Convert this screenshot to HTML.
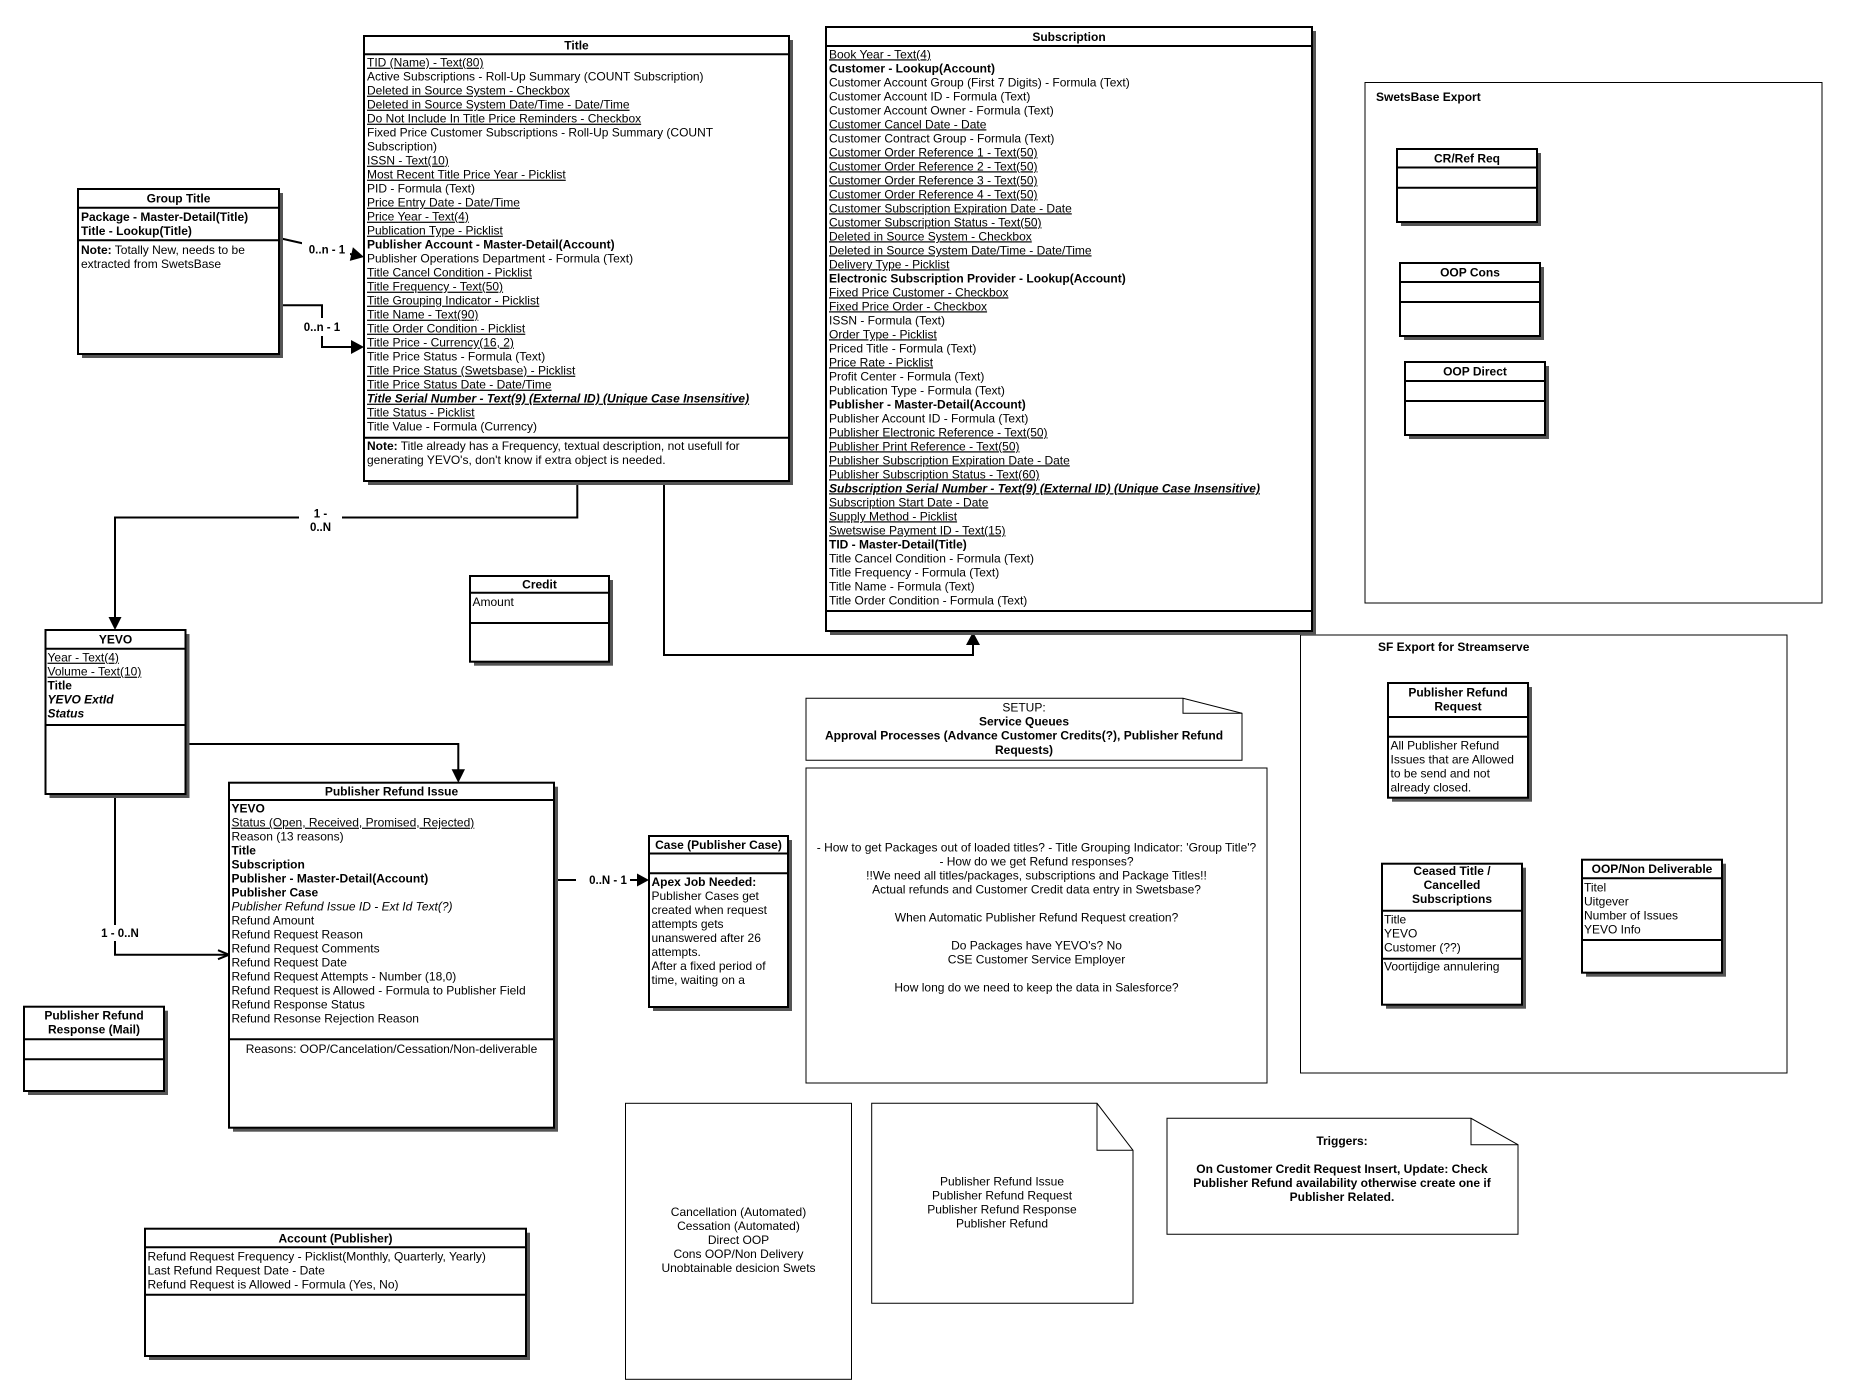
<!DOCTYPE html>
<html>
<head>
<meta charset="utf-8">
<style>
  html,body{margin:0;padding:0;background:#fff;}
  body{width:1875px;height:1399px;overflow:hidden;}
  svg{display:block;}
  text{font-family:"Liberation Sans",Arial,sans-serif;font-size:12px;fill:#000;}
  .b{font-weight:bold;}
  .i{font-style:italic;}
  .u{text-decoration:underline;}
  .m{text-anchor:middle;}
  .lbl{font-weight:bold;font-size:11.5px;}
</style>
</head>
<body>
<svg width="1875" height="1399" viewBox="0 0 1875 1399" xmlns="http://www.w3.org/2000/svg">
<rect x="0" y="0" width="1875" height="1399" fill="#fff"/>

<!-- Containers -->
<rect x="1365" y="82.5" width="457" height="520.5" fill="none" stroke="#000" stroke-width="1"/>
<text class="b" x="1376" y="101">SwetsBase Export</text>
<rect x="1300.5" y="635" width="486.5" height="438" fill="none" stroke="#000" stroke-width="1"/>
<text class="b" x="1378" y="651">SF Export for Streamserve</text>

<!-- Notes -->
<polygon points="806,698.3 1183,698.3 1242,713.3 1242,760.3 806,760.3" fill="#fff" stroke="#000" stroke-width="1"/>
<polyline points="1183,698.3 1183,713.3 1242,713.3" fill="none" stroke="#000" stroke-width="1"/>
<text class="m" x="1024" y="711.3">SETUP:</text>
<text class="m b" x="1024" y="725.7">Service Queues</text>
<text class="m b" x="1024" y="739.7">Approval Processes (Advance Customer Credits(?), Publisher Refund</text>
<text class="m b" x="1024" y="754">Requests)</text>

<rect x="806" y="768" width="461" height="315" fill="#fff" stroke="#000" stroke-width="1"/>
<text class="m" x="1036.5" y="851.7">- How to get Packages out of loaded titles? - Title Grouping Indicator: 'Group Title'?</text>
<text class="m" x="1036.5" y="865.7">- How do we get Refund responses?</text>
<text class="m" x="1036.5" y="879.7">!!We need all titles/packages, subscriptions and Package Titles!!</text>
<text class="m" x="1036.5" y="893.7">Actual refunds and Customer Credit data entry in Swetsbase?</text>
<text class="m" x="1036.5" y="921.7">When Automatic Publisher Refund Request creation?</text>
<text class="m" x="1036.5" y="949.7">Do Packages have YEVO's? No</text>
<text class="m" x="1036.5" y="963.7">CSE Customer Service Employer</text>
<text class="m" x="1036.5" y="991.7">How long do we need to keep the data in Salesforce?</text>

<rect x="625.5" y="1103.3" width="226" height="276" fill="#fff" stroke="#000" stroke-width="1"/>
<text class="m" x="738.5" y="1216">Cancellation (Automated)</text>
<text class="m" x="738.5" y="1230">Cessation (Automated)</text>
<text class="m" x="738.5" y="1244">Direct OOP</text>
<text class="m" x="738.5" y="1258">Cons OOP/Non Delivery</text>
<text class="m" x="738.5" y="1272">Unobtainable desicion Swets</text>

<polygon points="871.7,1103.3 1097,1103.3 1133,1150.3 1133,1303.3 871.7,1303.3" fill="#fff" stroke="#000" stroke-width="1"/>
<polyline points="1097,1103.3 1097,1150.3 1133,1150.3" fill="none" stroke="#000" stroke-width="1"/>
<text class="m" x="1002" y="1185.7">Publisher Refund Issue</text>
<text class="m" x="1002" y="1199.7">Publisher Refund Request</text>
<text class="m" x="1002" y="1213.7">Publisher Refund Response</text>
<text class="m" x="1002" y="1227.7">Publisher Refund</text>

<polygon points="1167,1118.3 1471,1118.3 1518,1144.7 1518,1234.3 1167,1234.3" fill="#fff" stroke="#000" stroke-width="1"/>
<polyline points="1471,1118.3 1471,1144.7 1518,1144.7" fill="none" stroke="#000" stroke-width="1"/>
<text class="m b" x="1342" y="1145">Triggers:</text>
<text class="m b" x="1342" y="1173">On Customer Credit Request Insert, Update: Check</text>
<text class="m b" x="1342" y="1187">Publisher Refund availability otherwise create one if</text>
<text class="m b" x="1342" y="1201">Publisher Related.</text>

<!-- Connectors -->
<g stroke="#000" stroke-width="2" fill="none">
  <line x1="279" y1="238" x2="352" y2="254.5"/>
  <polyline points="279,305.3 322,305.3 322,347 352,347"/>
  <polyline points="577.3,481 577.3,517.5 115,517.5 115,618"/>
  <polyline points="664,481 664,655 973,655 973,645"/>
  <polyline points="186,744 458.3,744 458.3,770"/>
  <polyline points="115,794 115,954.7 228,954.7"/>
  <line x1="558" y1="880" x2="638" y2="880"/>
  <polyline points="218,950.2 229,954.7 218,959.2"/>
</g>
<g fill="#000">
  <polygon points="364,257 349.8,260.9 352.9,247.3"/>
  <polygon points="364,347 351,340 351,354"/>
  <polygon points="115,630 108.5,617 121.5,617"/>
  <polygon points="973,632 966,645 980,645"/>
  <polygon points="458.3,782.7 451.6,769.3 465,769.3"/>
  <polygon points="649,880 637,873.5 637,886.5"/>
</g>
<!-- connector labels -->
<rect x="302" y="241" width="48" height="17" fill="#fff"/>
<text class="m lbl" x="327" y="253.5">0..n - 1</text>
<rect x="302" y="318" width="40" height="18" fill="#fff"/>
<text class="m lbl" x="322" y="331">0..n - 1</text>
<rect x="299" y="505" width="43" height="30" fill="#fff"/>
<text class="m lbl" x="320.5" y="517.3">1 -</text>
<text class="m lbl" x="320.5" y="531">0..N</text>
<rect x="99" y="925" width="42" height="16" fill="#fff"/>
<text class="m lbl" x="120" y="937">1 - 0..N</text>
<rect x="576" y="872" width="54" height="16" fill="#fff"/>
<text class="m lbl" x="608" y="884">0..N - 1</text>

<!-- Box: Group Title -->
<rect x="82" y="193" width="201" height="165" fill="#555"/>
<rect x="78" y="189" width="201" height="165" fill="#fff" stroke="#000" stroke-width="2"/>
<line x1="78" y1="207.7" x2="279" y2="207.7" stroke="#000" stroke-width="2"/>
<line x1="78" y1="240.3" x2="279" y2="240.3" stroke="#000" stroke-width="2"/>
<text class="m b" x="178.5" y="202.5">Group Title</text>
<text class="b" x="81" y="221">Package - Master-Detail(Title)</text>
<text class="b" x="81" y="235">Title - Lookup(Title)</text>
<text x="81" y="254"><tspan class="b">Note:</tspan> Totally New, needs to be</text>
<text x="81" y="268">extracted from SwetsBase</text>

<!-- Box: Title -->
<rect x="368" y="40" width="425" height="445" fill="#555"/>
<rect x="364" y="36" width="425" height="445" fill="#fff" stroke="#000" stroke-width="2"/>
<line x1="364" y1="54.3" x2="789" y2="54.3" stroke="#000" stroke-width="2"/>
<line x1="364" y1="437.7" x2="789" y2="437.7" stroke="#000" stroke-width="2"/>
<text class="m b" x="576.5" y="49.5">Title</text>
<text class="u" x="367" y="66.7">TID (Name) - Text(80)</text>
<text x="367" y="80.7">Active Subscriptions - Roll-Up Summary (COUNT Subscription)</text>
<text class="u" x="367" y="94.7">Deleted in Source System - Checkbox</text>
<text class="u" x="367" y="108.7">Deleted in Source System Date/Time - Date/Time</text>
<text class="u" x="367" y="122.7">Do Not Include In Title Price Reminders - Checkbox</text>
<text x="367" y="136.7">Fixed Price Customer Subscriptions - Roll-Up Summary (COUNT</text>
<text x="367" y="150.7">Subscription)</text>
<text class="u" x="367" y="164.7">ISSN - Text(10)</text>
<text class="u" x="367" y="178.7">Most Recent Title Price Year - Picklist</text>
<text x="367" y="192.7">PID - Formula (Text)</text>
<text class="u" x="367" y="206.7">Price Entry Date - Date/Time</text>
<text class="u" x="367" y="220.7">Price Year - Text(4)</text>
<text class="u" x="367" y="234.7">Publication Type - Picklist</text>
<text class="b" x="367" y="248.7">Publisher Account - Master-Detail(Account)</text>
<text x="367" y="262.7">Publisher Operations Department - Formula (Text)</text>
<text class="u" x="367" y="276.7">Title Cancel Condition - Picklist</text>
<text class="u" x="367" y="290.7">Title Frequency - Text(50)</text>
<text class="u" x="367" y="304.7">Title Grouping Indicator - Picklist</text>
<text class="u" x="367" y="318.7">Title Name - Text(90)</text>
<text class="u" x="367" y="332.7">Title Order Condition - Picklist</text>
<text class="u" x="367" y="346.7">Title Price - Currency(16, 2)</text>
<text x="367" y="360.7">Title Price Status - Formula (Text)</text>
<text class="u" x="367" y="374.7">Title Price Status (Swetsbase) - Picklist</text>
<text class="u" x="367" y="388.7">Title Price Status Date - Date/Time</text>
<text class="b i u" x="367" y="402.7">Title Serial Number - Text(9) (External ID) (Unique Case Insensitive)</text>
<text class="u" x="367" y="416.7">Title Status - Picklist</text>
<text x="367" y="430.7">Title Value - Formula (Currency)</text>
<text x="367" y="450"><tspan class="b">Note:</tspan> Title already has a Frequency, textual description, not usefull for</text>
<text x="367" y="464">generating YEVO's, don't know if extra object is needed.</text>

<!-- Box: Subscription -->
<rect x="830" y="31" width="486" height="604" fill="#555"/>
<rect x="826" y="27" width="486" height="604" fill="#fff" stroke="#000" stroke-width="2"/>
<line x1="826" y1="46" x2="1312" y2="46" stroke="#000" stroke-width="2"/>
<line x1="826" y1="611" x2="1312" y2="611" stroke="#000" stroke-width="2"/>
<text class="m b" x="1069" y="41">Subscription</text>
<text class="u" x="829" y="58.3">Book Year - Text(4)</text>
<text class="b" x="829" y="72.3">Customer - Lookup(Account)</text>
<text x="829" y="86.3">Customer Account Group (First 7 Digits) - Formula (Text)</text>
<text x="829" y="100.3">Customer Account ID - Formula (Text)</text>
<text x="829" y="114.3">Customer Account Owner - Formula (Text)</text>
<text class="u" x="829" y="128.3">Customer Cancel Date - Date</text>
<text x="829" y="142.3">Customer Contract Group - Formula (Text)</text>
<text class="u" x="829" y="156.3">Customer Order Reference 1 - Text(50)</text>
<text class="u" x="829" y="170.3">Customer Order Reference 2 - Text(50)</text>
<text class="u" x="829" y="184.3">Customer Order Reference 3 - Text(50)</text>
<text class="u" x="829" y="198.3">Customer Order Reference 4 - Text(50)</text>
<text class="u" x="829" y="212.3">Customer Subscription Expiration Date - Date</text>
<text class="u" x="829" y="226.3">Customer Subscription Status - Text(50)</text>
<text class="u" x="829" y="240.3">Deleted in Source System - Checkbox</text>
<text class="u" x="829" y="254.3">Deleted in Source System Date/Time - Date/Time</text>
<text class="u" x="829" y="268.3">Delivery Type - Picklist</text>
<text class="b" x="829" y="282.3">Electronic Subscription Provider - Lookup(Account)</text>
<text class="u" x="829" y="296.3">Fixed Price Customer - Checkbox</text>
<text class="u" x="829" y="310.3">Fixed Price Order - Checkbox</text>
<text x="829" y="324.3">ISSN - Formula (Text)</text>
<text class="u" x="829" y="338.3">Order Type - Picklist</text>
<text x="829" y="352.3">Priced Title - Formula (Text)</text>
<text class="u" x="829" y="366.3">Price Rate - Picklist</text>
<text x="829" y="380.3">Profit Center - Formula (Text)</text>
<text x="829" y="394.3">Publication Type - Formula (Text)</text>
<text class="b" x="829" y="408.3">Publisher - Master-Detail(Account)</text>
<text x="829" y="422.3">Publisher Account ID - Formula (Text)</text>
<text class="u" x="829" y="436.3">Publisher Electronic Reference - Text(50)</text>
<text class="u" x="829" y="450.3">Publisher Print Reference - Text(50)</text>
<text class="u" x="829" y="464.3">Publisher Subscription Expiration Date - Date</text>
<text class="u" x="829" y="478.3">Publisher Subscription Status - Text(60)</text>
<text class="b i u" x="829" y="492.3">Subscription Serial Number - Text(9) (External ID) (Unique Case Insensitive)</text>
<text class="u" x="829" y="506.3">Subscription Start Date - Date</text>
<text class="u" x="829" y="520.3">Supply Method - Picklist</text>
<text class="u" x="829" y="534.3">Swetswise Payment ID - Text(15)</text>
<text class="b" x="829" y="548.3">TID - Master-Detail(Title)</text>
<text x="829" y="562.3">Title Cancel Condition - Formula (Text)</text>
<text x="829" y="576.3">Title Frequency - Formula (Text)</text>
<text x="829" y="590.3">Title Name - Formula (Text)</text>
<text x="829" y="604.3">Title Order Condition - Formula (Text)</text>

<!-- SwetsBase boxes -->
<rect x="1401" y="153" width="140" height="73" fill="#555"/>
<rect x="1397" y="149" width="140" height="73" fill="#fff" stroke="#000" stroke-width="2"/>
<line x1="1397" y1="167.5" x2="1537" y2="167.5" stroke="#000" stroke-width="2"/>
<line x1="1397" y1="187.7" x2="1537" y2="187.7" stroke="#000" stroke-width="2"/>
<text class="m b" x="1467" y="162.5">CR/Ref Req</text>

<rect x="1404" y="267" width="140" height="73" fill="#555"/>
<rect x="1400" y="263" width="140" height="73" fill="#fff" stroke="#000" stroke-width="2"/>
<line x1="1400" y1="282" x2="1540" y2="282" stroke="#000" stroke-width="2"/>
<line x1="1400" y1="302" x2="1540" y2="302" stroke="#000" stroke-width="2"/>
<text class="m b" x="1470" y="276.5">OOP Cons</text>

<rect x="1409" y="366" width="140" height="73" fill="#555"/>
<rect x="1405" y="362" width="140" height="73" fill="#fff" stroke="#000" stroke-width="2"/>
<line x1="1405" y1="381" x2="1545" y2="381" stroke="#000" stroke-width="2"/>
<line x1="1405" y1="401" x2="1545" y2="401" stroke="#000" stroke-width="2"/>
<text class="m b" x="1475" y="375.5">OOP Direct</text>

<!-- Credit -->
<rect x="474" y="580" width="139" height="85.7" fill="#555"/>
<rect x="470" y="576" width="139" height="85.7" fill="#fff" stroke="#000" stroke-width="2"/>
<line x1="470" y1="592.7" x2="609" y2="592.7" stroke="#000" stroke-width="2"/>
<line x1="470" y1="623" x2="609" y2="623" stroke="#000" stroke-width="2"/>
<text class="m b" x="539.5" y="588.5">Credit</text>
<text x="472.5" y="606">Amount</text>

<!-- YEVO -->
<rect x="49.5" y="634" width="140" height="164" fill="#555"/>
<rect x="45.5" y="630" width="140" height="164" fill="#fff" stroke="#000" stroke-width="2"/>
<line x1="45.5" y1="648.7" x2="185.5" y2="648.7" stroke="#000" stroke-width="2"/>
<line x1="45.5" y1="725" x2="185.5" y2="725" stroke="#000" stroke-width="2"/>
<text class="m b" x="115.5" y="643.5">YEVO</text>
<text class="u" x="47.5" y="661.7">Year - Text(4)</text>
<text class="u" x="47.5" y="675.7">Volume - Text(10)</text>
<text class="b" x="47.5" y="689.7">Title</text>
<text class="b i" x="47.5" y="703.7">YEVO ExtId</text>
<text class="b i" x="47.5" y="717.7">Status</text>

<!-- Publisher Refund Issue -->
<rect x="233" y="786.7" width="325" height="345" fill="#555"/>
<rect x="229" y="782.7" width="325" height="345" fill="#fff" stroke="#000" stroke-width="2"/>
<line x1="229" y1="800" x2="554" y2="800" stroke="#000" stroke-width="2"/>
<line x1="229" y1="1039.3" x2="554" y2="1039.3" stroke="#000" stroke-width="2"/>
<text class="m b" x="391.5" y="795.5">Publisher Refund Issue</text>
<text class="b" x="231.5" y="812.7">YEVO</text>
<text class="u" x="231.5" y="826.7">Status (Open, Received, Promised, Rejected)</text>
<text x="231.5" y="840.7">Reason (13 reasons)</text>
<text class="b" x="231.5" y="854.7">Title</text>
<text class="b" x="231.5" y="868.7">Subscription</text>
<text class="b" x="231.5" y="882.7">Publisher - Master-Detail(Account)</text>
<text class="b" x="231.5" y="896.7">Publisher Case</text>
<text class="i" x="231.5" y="910.7">Publisher Refund Issue ID - Ext Id Text(?)</text>
<text x="231.5" y="924.7">Refund Amount</text>
<text x="231.5" y="938.7">Refund Request Reason</text>
<text x="231.5" y="952.7">Refund Request Comments</text>
<text x="231.5" y="966.7">Refund Request Date</text>
<text x="231.5" y="980.7">Refund Request Attempts - Number (18,0)</text>
<text x="231.5" y="994.7">Refund Request is Allowed - Formula to Publisher Field</text>
<text x="231.5" y="1008.7">Refund Response Status</text>
<text x="231.5" y="1022.7">Refund Resonse Rejection Reason</text>
<text class="m" x="391.5" y="1053">Reasons: OOP/Cancelation/Cessation/Non-deliverable</text>

<!-- Case -->
<rect x="653" y="840" width="139" height="171" fill="#555"/>
<rect x="649" y="836" width="139" height="171" fill="#fff" stroke="#000" stroke-width="2"/>
<line x1="649" y1="853.5" x2="788" y2="853.5" stroke="#000" stroke-width="2"/>
<line x1="649" y1="873.3" x2="788" y2="873.3" stroke="#000" stroke-width="2"/>
<text class="m b" x="718.5" y="849">Case (Publisher Case)</text>
<text class="b" x="651.5" y="886">Apex Job Needed:</text>
<text x="651.5" y="900">Publisher Cases get</text>
<text x="651.5" y="914">created when request</text>
<text x="651.5" y="928">attempts gets</text>
<text x="651.5" y="942">unanswered after 26</text>
<text x="651.5" y="956">attempts.</text>
<text x="651.5" y="970">After a fixed period of</text>
<text x="651.5" y="984">time, waiting on a</text>

<!-- Publisher Refund Response (Mail) -->
<rect x="28" y="1010.7" width="140" height="84.3" fill="#555"/>
<rect x="24" y="1006.7" width="140" height="84.3" fill="#fff" stroke="#000" stroke-width="2"/>
<line x1="24" y1="1039.3" x2="164" y2="1039.3" stroke="#000" stroke-width="2"/>
<line x1="24" y1="1059.3" x2="164" y2="1059.3" stroke="#000" stroke-width="2"/>
<text class="m b" x="94" y="1019.7">Publisher Refund</text>
<text class="m b" x="94" y="1033.7">Response (Mail)</text>

<!-- Account (Publisher) -->
<rect x="149" y="1232.7" width="381" height="127.3" fill="#555"/>
<rect x="145" y="1228.7" width="381" height="127.3" fill="#fff" stroke="#000" stroke-width="2"/>
<line x1="145" y1="1247.3" x2="526" y2="1247.3" stroke="#000" stroke-width="2"/>
<line x1="145" y1="1294.7" x2="526" y2="1294.7" stroke="#000" stroke-width="2"/>
<text class="m b" x="335.5" y="1242.3">Account (Publisher)</text>
<text x="147.5" y="1260.3">Refund Request Frequency - Picklist(Monthly, Quarterly, Yearly)</text>
<text x="147.5" y="1274.3">Last Refund Request Date - Date</text>
<text x="147.5" y="1288.3">Refund Request is Allowed - Formula (Yes, No)</text>

<!-- SF Export boxes -->
<rect x="1392" y="687" width="140" height="114.7" fill="#555"/>
<rect x="1388" y="683" width="140" height="114.7" fill="#fff" stroke="#000" stroke-width="2"/>
<line x1="1388" y1="717" x2="1528" y2="717" stroke="#000" stroke-width="2"/>
<line x1="1388" y1="736.7" x2="1528" y2="736.7" stroke="#000" stroke-width="2"/>
<text class="m b" x="1458" y="696.7">Publisher Refund</text>
<text class="m b" x="1458" y="710.7">Request</text>
<text x="1390.5" y="749.7">All Publisher Refund</text>
<text x="1390.5" y="763.7">Issues that are Allowed</text>
<text x="1390.5" y="777.7">to be send and not</text>
<text x="1390.5" y="791.7">already closed.</text>

<rect x="1386" y="867.7" width="140" height="141" fill="#555"/>
<rect x="1382" y="863.7" width="140" height="141" fill="#fff" stroke="#000" stroke-width="2"/>
<line x1="1382" y1="910.7" x2="1522" y2="910.7" stroke="#000" stroke-width="2"/>
<line x1="1382" y1="958.7" x2="1522" y2="958.7" stroke="#000" stroke-width="2"/>
<text class="m b" x="1452" y="875">Ceased Title /</text>
<text class="m b" x="1452" y="889">Cancelled</text>
<text class="m b" x="1452" y="903">Subscriptions</text>
<text x="1384" y="923.7">Title</text>
<text x="1384" y="937.7">YEVO</text>
<text x="1384" y="951.7">Customer (??)</text>
<text x="1384" y="970.7">Voortijdige annulering</text>

<rect x="1586" y="863.7" width="140" height="113" fill="#555"/>
<rect x="1582" y="859.7" width="140" height="113" fill="#fff" stroke="#000" stroke-width="2"/>
<line x1="1582" y1="878.3" x2="1722" y2="878.3" stroke="#000" stroke-width="2"/>
<line x1="1582" y1="940" x2="1722" y2="940" stroke="#000" stroke-width="2"/>
<text class="m b" x="1652" y="873">OOP/Non Deliverable</text>
<text x="1584" y="891.7">Titel</text>
<text x="1584" y="905.7">Uitgever</text>
<text x="1584" y="919.7">Number of Issues</text>
<text x="1584" y="933.7">YEVO Info</text>

</svg>
</body>
</html>
